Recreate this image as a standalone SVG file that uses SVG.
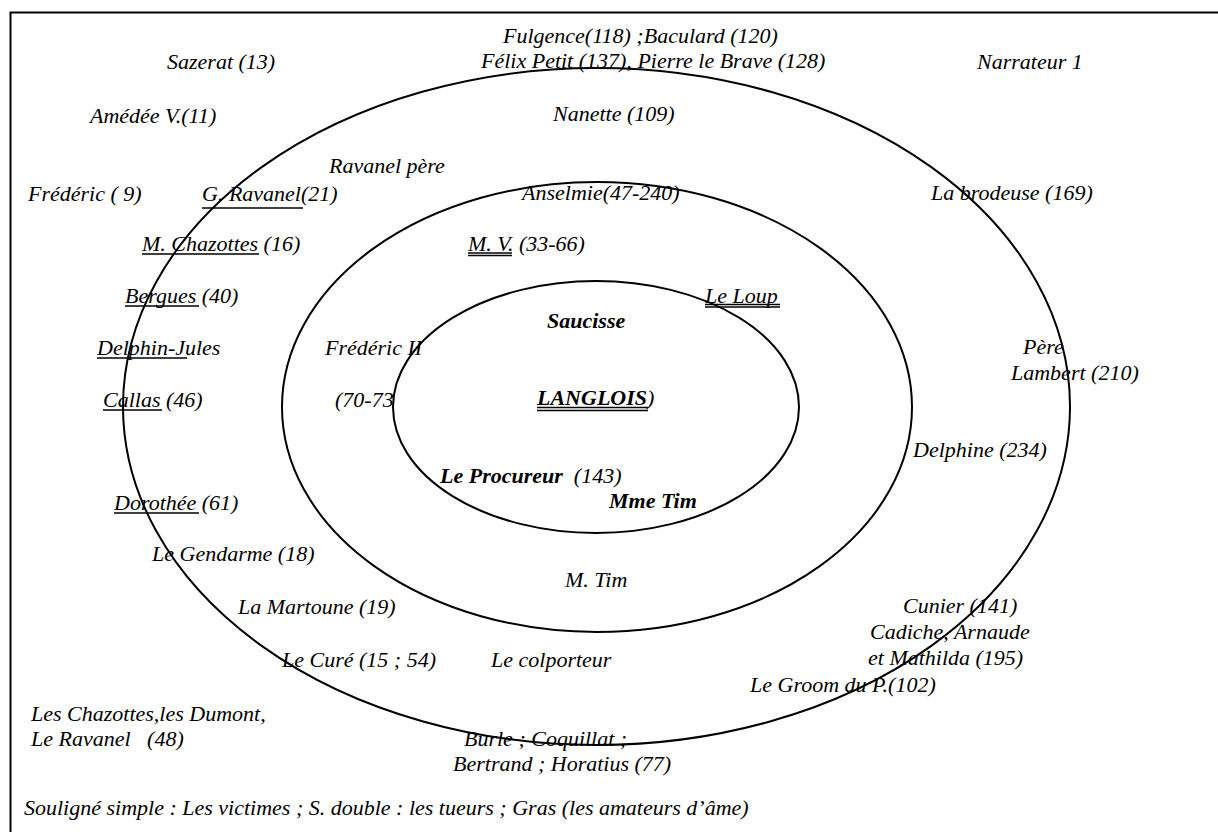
<svg xmlns="http://www.w3.org/2000/svg" width="1218" height="832" viewBox="0 0 1218 832">
<style>
text{font-family:"Liberation Serif","Times New Roman",serif;font-size:22px;font-style:italic;fill:#000}
.b{font-weight:bold}
.ring{fill:none;stroke:#000;stroke-width:2}
.ul{stroke:#000;stroke-width:1.4}
</style>
<rect x="0" y="0" width="1218" height="832" fill="#fff"/>
<path d="M10.5,832 V12.5 H1218" fill="none" stroke="#000" stroke-width="2"/>
<g id="rings">
<ellipse class="ring" cx="596.5" cy="406.5" rx="473.5" ry="338.5"/>
<ellipse class="ring" cx="597" cy="407" rx="315" ry="225"/>
<ellipse class="ring" cx="596" cy="407" rx="203" ry="126"/>
</g>
<g id="n-sazerat"><text x="167" y="69">Sazerat (13)</text></g>
<g id="n-fulgence"><text x="503" y="43">Fulgence(118) ;Baculard (120)</text></g>
<g id="n-felix"><text x="481" y="68">Félix Petit (137), Pierre le Brave (128)</text></g>
<g id="n-narrateur"><text x="977" y="69">Narrateur 1</text></g>
<g id="n-amedee"><text x="90" y="123">Amédée V.(11)</text></g>
<g id="n-nanette"><text x="553" y="121">Nanette (109)</text></g>
<g id="n-ravanelpere"><text x="329" y="173">Ravanel père</text></g>
<g id="n-frederic"><text x="28" y="201">Frédéric ( 9)</text></g>
<g id="n-gravanel"><text x="202" y="201">G. Ravanel(21)</text><line class="ul" x1="202" y1="208" x2="303" y2="208"/></g>
<g id="n-anselmie"><text x="522" y="200">Anselmie(47-240)</text></g>
<g id="n-brodeuse"><text x="931" y="200">La brodeuse (169)</text></g>
<g id="n-chazottes"><text x="142" y="251">M. Chazottes (16)</text><line class="ul" x1="142" y1="254" x2="259" y2="254"/></g>
<g id="n-mv"><text x="468" y="251">M. V. (33-66)</text><line class="ul" x1="468" y1="253" x2="512" y2="253" stroke-width="1"/><line class="ul" x1="468" y1="255.5" x2="512" y2="255.5" stroke-width="1"/></g>
<g id="n-bergues"><text x="125" y="303">Bergues (40)</text><line class="ul" x1="125" y1="306" x2="199" y2="306"/></g>
<g id="n-loup"><text x="705" y="303">Le Loup</text><line class="ul" x1="705" y1="304.5" x2="780" y2="304.5" stroke-width="1"/><line class="ul" x1="705" y1="307" x2="780" y2="307" stroke-width="1"/></g>
<g id="n-saucisse"><text class="b" x="547" y="328">Saucisse</text></g>
<g id="n-delphinjules"><text x="97" y="355">Delphin-Jules</text><line class="ul" x1="97" y1="358" x2="187" y2="358"/></g>
<g id="n-frederic2"><text x="325" y="355">Frédéric II</text></g>
<g id="n-lambert"><text x="1023" y="354">Père</text><text x="1011" y="380">Lambert (210)</text></g>
<g id="n-callas"><text x="103" y="407">Callas (46)</text><line class="ul" x1="103" y1="410" x2="162" y2="410"/></g>
<g id="n-7073"><text x="335" y="407">(70-73</text></g>
<g id="n-langlois"><text x="537" y="405"><tspan class="b">LANGLOIS</tspan>)</text><line class="ul" x1="537" y1="407.5" x2="648" y2="407.5" stroke-width="1.2"/><line class="ul" x1="537" y1="410.5" x2="648" y2="410.5" stroke-width="1.2"/></g>
<g id="n-delphine"><text x="913" y="457">Delphine (234)</text></g>
<g id="n-procureur"><text x="440" y="483" xml:space="preserve"><tspan class="b">Le Procureur</tspan>  (143)</text></g>
<g id="n-mmetim"><text class="b" x="609" y="508">Mme Tim</text></g>
<g id="n-dorothee"><text x="114" y="510">Dorothée (61)</text><line class="ul" x1="114" y1="513" x2="199" y2="513"/></g>
<g id="n-gendarme"><text x="152" y="561">Le Gendarme (18)</text></g>
<g id="n-mtim"><text x="565" y="587">M. Tim</text></g>
<g id="n-martoune"><text x="238" y="614">La Martoune (19)</text></g>
<g id="n-cunier"><text x="903" y="613">Cunier (141)</text></g>
<g id="n-cadiche"><text x="870" y="639">Cadiche, Arnaude</text><text x="868" y="665">et Mathilda (195)</text></g>
<g id="n-cure"><text x="282" y="667">Le Curé (15 ; 54)</text></g>
<g id="n-colporteur"><text x="491" y="667">Le colporteur</text></g>
<g id="n-groom"><text x="750" y="692">Le Groom du P.(102)</text></g>
<g id="n-chazottes-dumont"><text x="31" y="721">Les Chazottes,les Dumont,</text><text x="31" y="746" xml:space="preserve">Le Ravanel   (48)</text></g>
<g id="n-burle"><text x="464" y="746">Burle ; Coquillat ;</text><text x="453" y="771">Bertrand ; Horatius (77)</text></g>
<g id="legend"><text x="24" y="815">Souligné simple : Les victimes ; S. double : les tueurs ; Gras (les amateurs d’âme)</text></g>
<g id="connectors"/>
</svg>
